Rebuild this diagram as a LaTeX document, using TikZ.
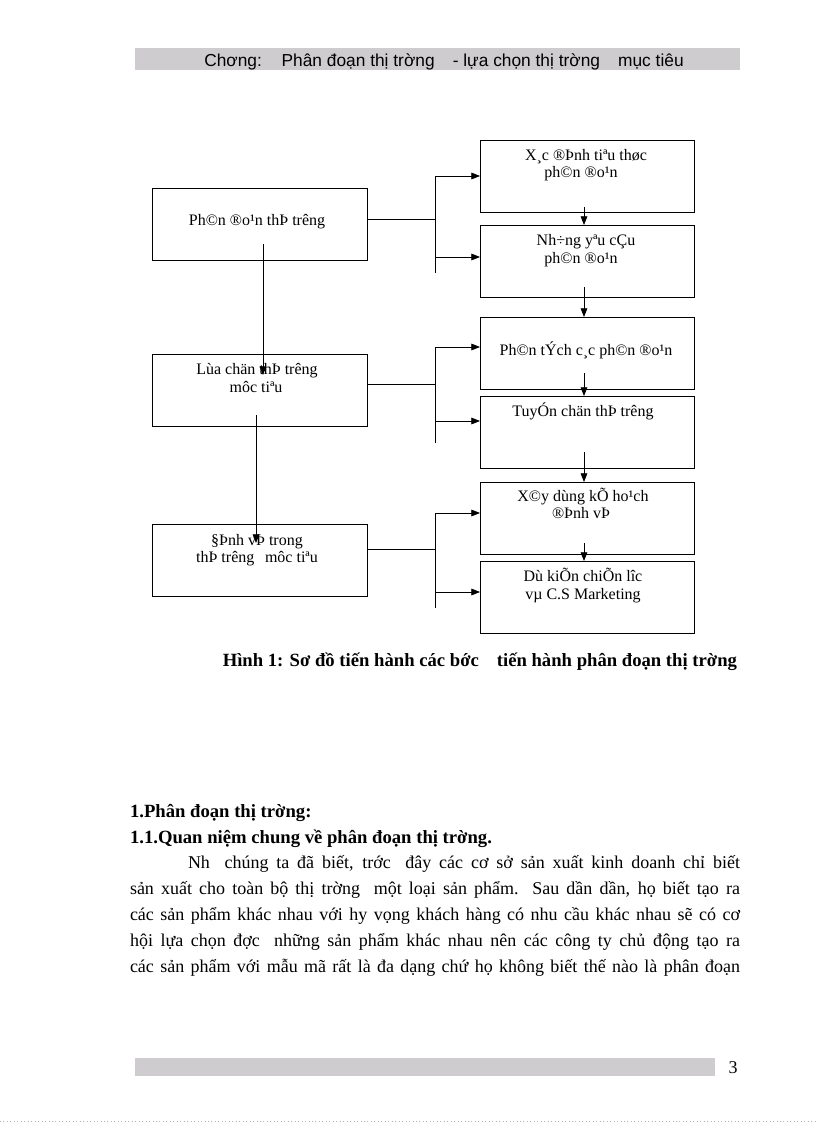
\documentclass[tikz,border=0pt]{standalone}
\usepackage{fontspec}
\setmainfont{Liberation Serif}
\newfontfamily\hdrfont{Liberation Sans}
\usetikzlibrary{arrows.meta,calc}
\definecolor{bargray}{RGB}{206,204,206}
\begin{document}
\begin{tikzpicture}[x=0.75pt,y=-0.75pt,
  every node/.style={inner sep=0pt, outer sep=0pt},
  rbox/.style={draw, line width=0.6pt, minimum width=160.5pt, minimum height=54pt},
  lbox/.style={draw, line width=0.6pt, minimum width=161.25pt, minimum height=54pt},
  btext/.style={anchor=base, font=\fontsize{12}{14}\selectfont},
  conn/.style={line width=0.6pt},
  arr/.style={conn, -{Triangle[length=6.5pt,width=5pt]}},
  bar/.style={fill=bargray, draw=none, anchor=north west},
  bodyfont/.style={font=\fontsize{13.5}{15}\selectfont},
  headfont/.style={font=\bfseries\fontsize{14}{16}\selectfont},
]
\useasboundingbox (0,0) rectangle (816,1123);
\fill[white] (0,0) rectangle (816,1123);

% header
\node[bar, minimum width=453.75pt, minimum height=16.5pt] (hdrbar) at (135,48) {};
\node[anchor=base, font=\hdrfont\fontsize{13}{15}\selectfont] (hdrtext) at (444,67)
  {Chơng:\hspace{10pt} Phân đoạn thị trờng\hspace{10pt} - lựa chọn thị trờng\hspace{10pt} mục tiêu};

% left boxes
\node[lbox] (l1) at (259.5,224) {};
\node[lbox] (l2) at (259.5,390) {};
\node[lbox] (l3) at (259.5,560.5) {};
% right boxes
\node[rbox] (r1) at (587,176) {};
\node[rbox] (r2) at (587,261) {};
\node[rbox] (r3) at (587,353) {};
\node[rbox] (r4) at (587,432) {};
\node[rbox] (r5) at (587,518) {};
\node[rbox] (r6) at (587,597) {};

% texts
\node[btext] (tl1) at (257,226) {Ph©n ®o¹n thÞ trêng};
\node[btext] (tl2a) at (257,374) {Lùa chän thÞ trêng};
\node[btext] (tl2b) at (256,392) {môc tiªu};
\node[btext] (tl3a) at (257,545) {§Þnh vÞ trong};
\node[btext] (tl3b) at (257,562) {thÞ trêng\hspace{5pt} môc tiªu};
\node[btext] (tr1a) at (586,161) {X¸c ®Þnh tiªu thøc};
\node[btext] (tr1b) at (581,178) {ph©n ®o¹n};
\node[btext] (tr2a) at (586,245) {Nh÷ng yªu cÇu};
\node[btext] (tr2b) at (581,263) {ph©n ®o¹n};
\node[btext] (tr3) at (586,355) {Ph©n tÝch c¸c ph©n ®o¹n};
\node[btext] (tr4) at (583,416) {TuyÓn chän thÞ trêng};
\node[btext] (tr5a) at (583,501) {X©y dùng kÕ ho¹ch};
\node[btext] (tr5b) at (581,518) {®Þnh vÞ};
\node[btext] (tr6a) at (583,581) {Dù kiÕn chiÕn lîc};
\node[btext] (tr6b) at (583,599) {vµ C.S Marketing};

% right column arrows
\draw[arr] ($(r1.south)+(-3,-5)$) -- ($(r2.north)+(-3,0)$);
\draw[arr] ($(r2.south)+(-3,-10)$) -- ($(r3.north)+(-3,0)$);
\draw[arr] ($(r3.south)+(-3,-16)$) -- ($(r4.north)+(-3,0)$);
\draw[arr] ($(r4.south)+(-3,-16)$) -- ($(r5.north)+(-3,0)$);
\draw[arr] ($(r5.south)+(-3,-11)$) -- ($(r6.north)+(-3,0)$);

% left column arrows
\draw[arr] ($(l1.center)+(3.5,20)$) -- ($(l2.center)+(3.5,-15)$);
\draw[arr] ($(l2.center)+(-3.5,25)$) -- ($(l3.center)+(-3.5,-17.5)$);

% branch 1
\coordinate (j1) at (435,219);
\coordinate (j1t) at (435,176);
\coordinate (j1a) at (435,257);
\coordinate (j1b) at (435,273);
\draw[conn] (l1.east |- j1) -- (j1);
\draw[conn] (j1t) -- (j1b);
\draw[arr] (j1t) -- (r1.west |- j1t);
\draw[arr] (j1a) -- (r2.west |- j1a);
% branch 2
\coordinate (j2) at (435,384);
\coordinate (j2t) at (435,347);
\coordinate (j2a) at (435,421);
\coordinate (j2b) at (435,443);
\draw[conn] (l2.east |- j2) -- (j2);
\draw[conn] (j2t) -- (j2b);
\draw[arr] (j2t) -- (r3.west |- j2t);
\draw[arr] (j2a) -- (r4.west |- j2a);
% branch 3
\coordinate (j3) at (435,549);
\coordinate (j3t) at (435,513);
\coordinate (j3a) at (435,592);
\coordinate (j3b) at (435,608);
\draw[conn] (l3.east |- j3) -- (j3);
\draw[conn] (j3t) -- (j3b);
\draw[arr] (j3t) -- (r5.west |- j3t);
\draw[arr] (j3a) -- (r6.west |- j3a);

% caption
\node[anchor=base east, headfont] (cap) at (737,666)
  {Hình 1: Sơ đồ tiến hành các bớc\hspace{10pt} tiến hành phân đoạn thị trờng};

% body
\node[anchor=base west, headfont] (h1) at (130,817) {1.Phân đoạn thị trờng:};
\node[anchor=base west, headfont] (h2) at (130,843) {1.1.Quan niệm chung về phân đoạn thị trờng.};
\node[anchor=base west, bodyfont] (p1) at (188,868)
  {\makebox[414pt][s]{Nh\hspace{5pt} chúng ta đã biết, trớc\hspace{5pt} đây các cơ sở sản xuất kinh doanh chỉ biết}};
\node[anchor=base west, bodyfont] (p2) at (130,894)
  {\makebox[457.5pt][s]{sản xuất cho toàn bộ thị trờng\hspace{5pt} một loại sản phẩm. Sau dần dần, họ biết tạo ra}};
\node[anchor=base west, bodyfont] (p3) at (130,920)
  {\makebox[457.5pt][s]{các sản phẩm khác nhau với hy vọng khách hàng có nhu cầu khác nhau sẽ có cơ}};
\node[anchor=base west, bodyfont] (p4) at (130,946)
  {\makebox[457.5pt][s]{hội lựa chọn đợc\hspace{5pt} những sản phẩm khác nhau nên các công ty chủ động tạo ra}};
\node[anchor=base west, bodyfont] (p5) at (130,972)
  {\makebox[457.5pt][s]{các sản phẩm với mẫu mã rất là đa dạng chứ họ không biết thế nào là phân đoạn}};

% footer
\node[bar, minimum width=435pt, minimum height=13.5pt] (ftrbar) at (135,1058) {};
\node[anchor=base, bodyfont] (pgnum) at (733,1073) {3};
\draw[gray!60, dotted, line width=0.6pt] (0,1121) -- (816,1121);
\end{tikzpicture}
\end{document}
